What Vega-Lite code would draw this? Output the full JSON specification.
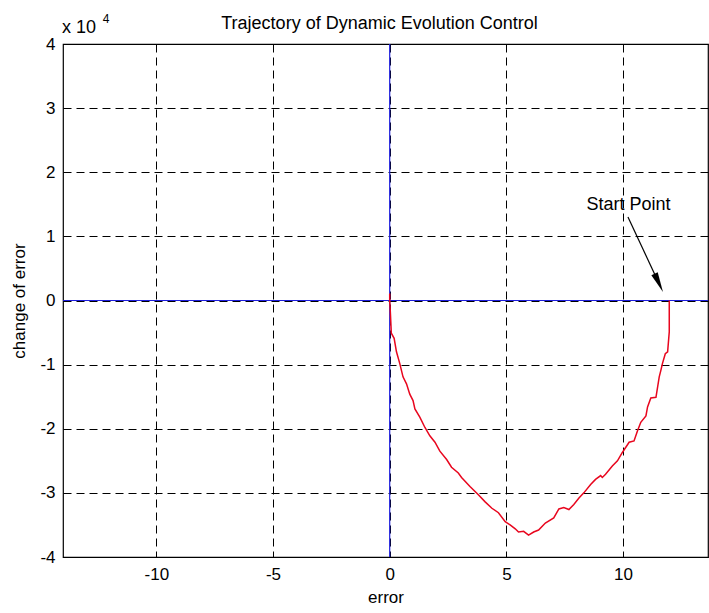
{
  "$schema": "https://vega.github.io/schema/vega-lite/v6.json",
  "width": 645,
  "height": 513,
  "autosize": {"type": "none"},
  "padding": {"left": 63, "top": 44, "right": 1, "bottom": 56},
  "background": "white",
  "title": {"text": "Trajectory of Dynamic Evolution Control", "font": "Liberation Sans", "fontSize": 18, "fontWeight": "normal", "color": "black", "offset": -14, "dy": 20, "baseline": "alphabetic", "anchor": "middle", "dx": -6},
  "datasets": {
    "curve": [
      {"i": 0, "x": 11.98, "y": 0},
      {"i": 1, "x": 11.98, "y": -4900},
      {"i": 2, "x": 11.91, "y": -8000},
      {"i": 3, "x": 11.81, "y": -8300},
      {"i": 4, "x": 11.69, "y": -9800},
      {"i": 5, "x": 11.62, "y": -10900},
      {"i": 6, "x": 11.55, "y": -11900},
      {"i": 7, "x": 11.41, "y": -15100},
      {"i": 8, "x": 11.19, "y": -15200},
      {"i": 9, "x": 11.05, "y": -16600},
      {"i": 10, "x": 10.98, "y": -18000},
      {"i": 11, "x": 10.76, "y": -19000},
      {"i": 12, "x": 10.62, "y": -20300},
      {"i": 13, "x": 10.47, "y": -21900},
      {"i": 14, "x": 10.26, "y": -22100},
      {"i": 15, "x": 9.97, "y": -23700},
      {"i": 16, "x": 9.76, "y": -25000},
      {"i": 17, "x": 9.54, "y": -25800},
      {"i": 18, "x": 9.25, "y": -27100},
      {"i": 19, "x": 9.11, "y": -27600},
      {"i": 20, "x": 9.04, "y": -27300},
      {"i": 21, "x": 8.82, "y": -27900},
      {"i": 22, "x": 8.61, "y": -28700},
      {"i": 23, "x": 8.32, "y": -30000},
      {"i": 24, "x": 8.11, "y": -30800},
      {"i": 25, "x": 7.89, "y": -31800},
      {"i": 26, "x": 7.68, "y": -32600},
      {"i": 27, "x": 7.46, "y": -32300},
      {"i": 28, "x": 7.25, "y": -32500},
      {"i": 29, "x": 7.03, "y": -33900},
      {"i": 30, "x": 6.67, "y": -34700},
      {"i": 31, "x": 6.38, "y": -35800},
      {"i": 32, "x": 6.17, "y": -36100},
      {"i": 33, "x": 5.95, "y": -36600},
      {"i": 34, "x": 5.74, "y": -36000},
      {"i": 35, "x": 5.52, "y": -36100},
      {"i": 36, "x": 5.38, "y": -35600},
      {"i": 37, "x": 5.16, "y": -35000},
      {"i": 38, "x": 4.95, "y": -34500},
      {"i": 39, "x": 4.66, "y": -33100},
      {"i": 40, "x": 4.38, "y": -32400},
      {"i": 41, "x": 4.09, "y": -31400},
      {"i": 42, "x": 3.80, "y": -30300},
      {"i": 43, "x": 3.44, "y": -29000},
      {"i": 44, "x": 3.08, "y": -27600},
      {"i": 45, "x": 2.94, "y": -26900},
      {"i": 46, "x": 2.65, "y": -26000},
      {"i": 47, "x": 2.44, "y": -24800},
      {"i": 48, "x": 2.15, "y": -23500},
      {"i": 49, "x": 1.94, "y": -22100},
      {"i": 50, "x": 1.72, "y": -21100},
      {"i": 51, "x": 1.51, "y": -19800},
      {"i": 52, "x": 1.29, "y": -18200},
      {"i": 53, "x": 1.08, "y": -16900},
      {"i": 54, "x": 1.00, "y": -15600},
      {"i": 55, "x": 0.86, "y": -14600},
      {"i": 56, "x": 0.72, "y": -13000},
      {"i": 57, "x": 0.57, "y": -11900},
      {"i": 58, "x": 0.43, "y": -9800},
      {"i": 59, "x": 0.29, "y": -8000},
      {"i": 60, "x": 0.19, "y": -5900},
      {"i": 61, "x": 0.07, "y": -5100},
      {"i": 62, "x": 0.03, "y": -2000},
      {"i": 63, "x": 0.0, "y": 0},
      {"i": 64, "x": 0.0, "y": 1100}
    ],
    "vline": [{"x": 0, "y": -40000, "y2": 40000}],
    "hline": [{"x": -14, "x2": 13.64, "y": 0}],
    "arrow": [{"x": 10.21, "y": 13020, "x2": 11.53, "y2": 2745}],
    "head": [{"x": 11.53, "y": 2745}],
    "startLabel": [{"x": 10.23, "y": 14100, "label": "Start Point"}],
    "expBase": [{"x": -14.04, "y": 41700, "label": "x 10"}],
    "expSup": [{"x": -12.3, "y": 43270, "label": "4"}]
  },
  "encoding": {
    "x": {
      "field": "x", "type": "quantitative",
      "scale": {"domain": [-14, 13.64], "nice": false, "zero": false},
      "axis": {"title": "error", "values": [-10, -5, 0, 5, 10], "labelExpr": "datum.value"}
    },
    "y": {
      "field": "y", "type": "quantitative",
      "scale": {"domain": [-40000, 40000], "nice": false, "zero": false},
      "axis": {"title": "change of error", "values": [-40000, -30000, -20000, -10000, 0, 10000, 20000, 30000, 40000], "labelExpr": "datum.value / 10000"}
    }
  },
  "layer": [
    {
      "data": {"name": "vline"},
      "mark": {"type": "rule", "color": "#1c1cdc", "strokeWidth": 1.2},
      "encoding": {"y2": {"field": "y2"}}
    },
    {
      "data": {"name": "hline"},
      "mark": {"type": "rule", "color": "#1c1cdc", "strokeWidth": 1.2},
      "encoding": {"x2": {"field": "x2"}}
    },
    {
      "data": {"name": "curve"},
      "mark": {"type": "line", "color": "#e8061e", "strokeWidth": 1.5, "interpolate": "linear"},
      "encoding": {"order": {"field": "i", "type": "quantitative"}}
    },
    {
      "data": {"name": "arrow"},
      "mark": {"type": "rule", "color": "black", "strokeWidth": 1.2},
      "encoding": {"x2": {"field": "x2"}, "y2": {"field": "y2"}}
    },
    {
      "data": {"name": "head"},
      "mark": {"type": "point", "shape": "M0,-1L-0.35,1L0.35,1Z", "size": 400, "angle": 155, "filled": true, "color": "black", "opacity": 1}
    },
    {
      "data": {"name": "startLabel"},
      "mark": {"type": "text", "font": "Liberation Sans", "fontSize": 18, "color": "black", "align": "center", "baseline": "alphabetic"},
      "encoding": {"text": {"field": "label"}}
    },
    {
      "data": {"name": "expBase"},
      "mark": {"type": "text", "font": "Liberation Sans", "fontSize": 18, "color": "black", "align": "left", "baseline": "alphabetic"},
      "encoding": {"text": {"field": "label"}}
    },
    {
      "data": {"name": "expSup"},
      "mark": {"type": "text", "font": "Liberation Sans", "fontSize": 12, "color": "black", "align": "left", "baseline": "alphabetic"},
      "encoding": {"text": {"field": "label"}}
    }
  ],
  "config": {
    "font": "Liberation Sans",
    "view": {"stroke": "black", "strokeWidth": 1.2},
    "axis": {
      "domain": false,
      "ticks": false,
      "tickSize": 0,
      "grid": true,
      "gridColor": "black",
      "gridDash": [8, 5],
      "gridOpacity": 1,
      "gridWidth": 1,
      "labelFont": "Liberation Sans",
      "labelFontSize": 17,
      "labelColor": "black",
      "titleFont": "Liberation Sans",
      "titleFontSize": 17,
      "titleFontWeight": "normal",
      "titleColor": "black"
    },
    "axisX": {"labelPadding": 9, "titlePadding": 7, "labelFlush": false},
    "axisY": {"labelPadding": 8, "titlePadding": 11, "labelFlush": false}
  }
}
